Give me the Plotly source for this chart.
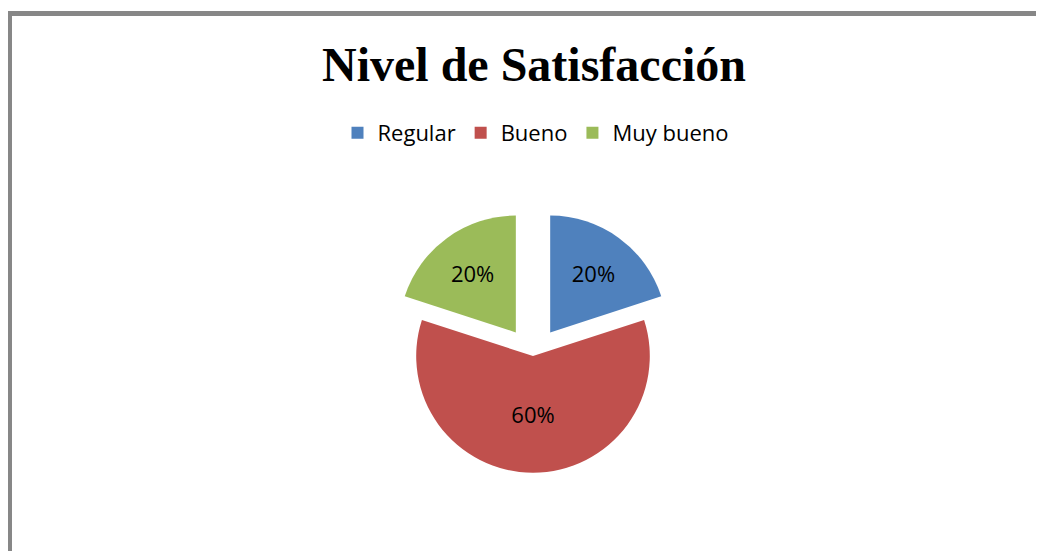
"""
Gráfico circular: Nivel de Satisfacción.
"""

import plotly.graph_objects as go

CATEGORIAS = ["Regular", "Bueno", "Muy bueno"]
PORCENTAJES = [20, 60, 20]
SEPARACION = [0.25, 0.0, 0.25]
COLORES = ["#4F81BD", "#C0504D", "#9BBB59"]

ANCHO = 1044
ALTO = 551
DESPLAZ = 8  # margen del body de la página
COLOR_BORDE = "#878787"


def _px_x(v):
    return (v - DESPLAZ) / ANCHO


def _px_y(v):
    return 1 - (v - DESPLAZ) / ALTO


fig = go.Figure()

fig.add_trace(
    go.Pie(
        labels=CATEGORIAS,
        values=PORCENTAJES,
        pull=SEPARACION,
        sort=False,
        direction="clockwise",
        rotation=0,
        marker=dict(colors=COLORES, line=dict(width=0)),
        texttemplate="%{value}%",
        textposition="inside",
        insidetextorientation="horizontal",
        textfont=dict(family="Open Sans, sans-serif", size=22, color="#000000"),
        domain=dict(x=[_px_x(387), _px_x(679)], y=[_px_y(502), _px_y(210)]),
        hoverinfo="label+percent",
    )
)

# marco gris superior e izquierdo
fig.add_shape(
    type="rect", xref="paper", yref="paper",
    x0=0.0, x1=1.0, y0=_px_y(16), y1=_px_y(11),
    fillcolor=COLOR_BORDE, line=dict(width=0),
)
fig.add_shape(
    type="rect", xref="paper", yref="paper",
    x0=0.0, x1=_px_x(12), y0=0.0, y1=_px_y(11),
    fillcolor=COLOR_BORDE, line=dict(width=0),
)

fig.update_layout(
    title=dict(
        text="<b>Nivel de Satisfacción</b>",
        font=dict(family="Liberation Serif, Times New Roman, serif", size=48, color="#000000"),
        x=_px_x(534),
        xanchor="center",
        y=_px_y(64),
        yanchor="middle",
    ),
    legend=dict(
        orientation="h",
        x=_px_x(536),
        xanchor="center",
        y=_px_y(133),
        yanchor="middle",
        font=dict(family="Open Sans, sans-serif", size=22, color="#000000"),
        traceorder="normal",
    ),
    width=ANCHO,
    height=ALTO,
    margin=dict(l=0, r=0, t=0, b=0),
    paper_bgcolor="#ffffff",
    plot_bgcolor="#ffffff",
)

fig.write_html("out.html")
